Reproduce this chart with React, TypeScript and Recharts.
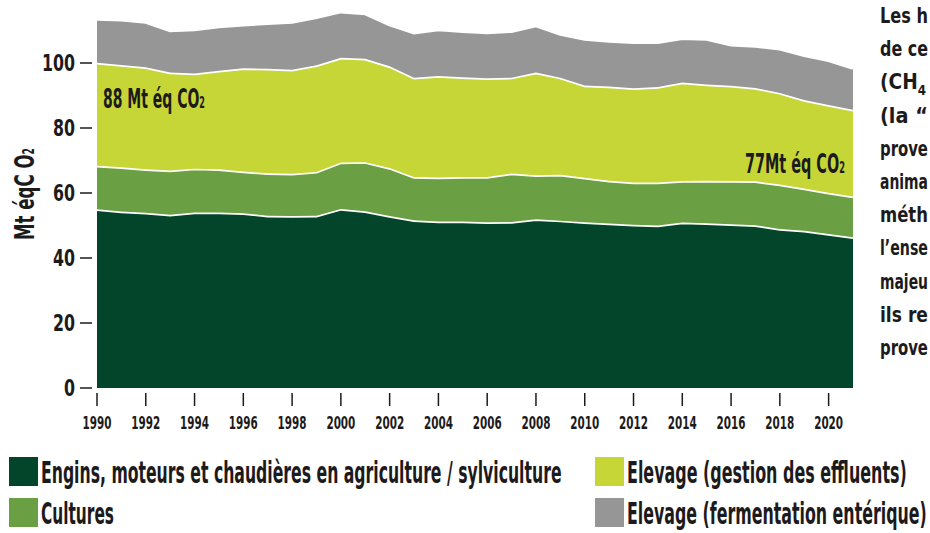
import React, { useLayoutEffect, useRef, useState } from 'react';
import { AreaChart, Area, XAxis, YAxis } from 'recharts';

const years = [
  1990, 1991, 1992, 1993, 1994, 1995, 1996, 1997, 1998, 1999, 2000, 2001, 2002, 2003, 2004, 2005,
  2006, 2007, 2008, 2009, 2010, 2011, 2012, 2013, 2014, 2015, 2016, 2017, 2018, 2019, 2020, 2021,
];

// Mt éq CO2 per category
const engins = [
  55.0, 54.3, 53.9, 53.3, 54.0, 54.0, 53.8, 53.0, 52.9, 53.0, 55.1, 54.4, 52.9, 51.6, 51.2, 51.2,
  51.0, 51.1, 51.9, 51.5, 51.0, 50.6, 50.2, 50.0, 50.9, 50.7, 50.4, 50.1, 48.9, 48.4, 47.4, 46.4,
];
const cultures = [
  13.4, 13.6, 13.4, 13.6, 13.5, 13.3, 12.8, 13.1, 13.0, 13.5, 14.3, 15.1, 14.8, 13.3, 13.6, 13.7,
  13.9, 14.9, 13.6, 14.1, 13.7, 13.2, 13.0, 13.2, 12.8, 13.1, 13.3, 13.5, 13.7, 13.0, 12.7, 12.5,
];
const effluents = [
  31.7, 31.5, 31.4, 30.2, 29.3, 30.3, 31.8, 32.1, 32.0, 32.8, 32.2, 31.8, 31.3, 30.6, 31.2, 30.7,
  30.4, 29.5, 31.6, 29.9, 28.4, 29.0, 29.0, 29.4, 30.3, 29.6, 29.3, 28.7, 28.2, 27.2, 27.0, 26.7,
];
const fermentation = [
  13.4, 13.9, 13.9, 12.9, 13.5, 13.6, 13.4, 14.0, 14.7, 14.8, 14.2, 13.9, 12.8, 13.8, 14.3, 14.2,
  14.1, 14.3, 14.4, 13.4, 14.3, 14.0, 14.2, 13.8, 13.6, 14.0, 12.6, 12.9, 13.6, 13.8, 13.7, 12.8,
];

const xTicks = [1990, 1992, 1994, 1996, 1998, 2000, 2002, 2004, 2006, 2008, 2010, 2012, 2014, 2016, 2018, 2020];
const yTicks = [0, 20, 40, 60, 80, 100];

const series = [
  { key: 'engins', label: 'Engins, moteurs et chaudières en agriculture / sylviculture', color: '#03452a' },
  { key: 'cultures', label: 'Cultures', color: '#6aa043' },
  { key: 'effluents', label: 'Elevage (gestion des effluents)', color: '#c6d637' },
  { key: 'fermentation', label: 'Elevage (fermentation entérique)', color: '#959695' },
];

// right-hand paragraph, cut by the edge of the picture
const sideText = ['Les h', 'de ce', '(CH', '(la “', 'prove', 'anima', 'méth', 'l’ense', 'majeu', 'ils re', 'prove'];

const data = years.map((year, i) => ({
  year,
  engins: engins[i],
  cultures: cultures[i],
  effluents: effluents[i],
  fermentation: fermentation[i],
}));

const FONT = "'Liberation Sans Narrow', 'DejaVu Sans Condensed', 'Roboto', sans-serif";
const INK = '#1d1a1b';

// squeezes a text horizontally to a given width (condensed look)
const FitText = (props: any) => {
  const { x, y, width, rotate, anchor = 'start', children, ...rest } = props;
  const ref = useRef<SVGTextElement>(null);
  const [k, setK] = useState(1);
  useLayoutEffect(() => {
    if (ref.current) {
      const n = ref.current.getComputedTextLength();
      if (n > 0) setK(width / n);
    }
  }, [width]);
  const tr = `translate(${x},${y})${rotate ? ` rotate(${rotate})` : ''} scale(${k},1)`;
  return (
    <text ref={ref} x={0} y={0} transform={tr} textAnchor={anchor} fontFamily={FONT} fontWeight="bold" fill={INK} {...rest}>
      {children}
    </text>
  );
};

const XTick = (props: any) => {
  const { x, y, payload } = props;
  return (
    <g>
      <line x1={x} x2={x} y1={y + 5} y2={y + 18} stroke={INK} strokeWidth={1.5} />
      <FitText x={x} y={y + 41} width={29} anchor="middle" fontSize={17}>
        {payload.value}
      </FitText>
    </g>
  );
};

const YTick = (props: any) => {
  const { x, y, payload } = props;
  const w = String(payload.value).length * 11;
  return (
    <g>
      <line x1={x - 17} x2={x - 5} y1={y} y2={y} stroke={INK} strokeWidth={1.5} />
      <FitText x={x - 22} y={y + 8} width={w} anchor="end" fontSize={23}>
        {payload.value}
      </FitText>
    </g>
  );
};

export default function App() {
  return (
    <div style={{ position: 'absolute', left: 0, top: 0, width: 930, height: 533, overflow: 'hidden', background: '#fff' }}>
      <AreaChart width={930} height={533} data={data} margin={{ top: 11, right: 77, bottom: 105, left: 0 }}>
        <XAxis
          dataKey="year"
          type="number"
          domain={[1990, 2021]}
          ticks={xTicks}
          interval={0}
          height={40}
          axisLine={false}
          tickLine={false}
          tickSize={0}
          tickMargin={0}
          tick={<XTick />}
        />
        <YAxis
          type="number"
          domain={[0, 116]}
          ticks={yTicks}
          width={97}
          axisLine={false}
          tickLine={false}
          tickSize={0}
          tickMargin={0}
          tick={<YTick />}
        />
        {series.map((s) => (
          <Area
            key={s.key}
            type="linear"
            dataKey={s.key}
            stackId="a"
            fill={s.color}
            fillOpacity={1}
            stroke="#ffffff"
            strokeWidth={3.5}
            isAnimationActive={false}
          />
        ))}
      </AreaChart>

      <svg width={930} height={533} style={{ position: 'absolute', left: 0, top: 0, pointerEvents: 'none' }}>
        <FitText x={34} y={194} rotate={-90} width={92} anchor="middle" fontSize={27}>
          Mt éqC O<tspan fontSize={15}>2</tspan>
        </FitText>

        <FitText x={103} y={108} width={102} fontSize={26}>
          88 Mt éq CO<tspan fontSize={15}>2</tspan>
        </FitText>
        <FitText x={745} y={173} width={100} fontSize={26}>
          77Mt éq CO<tspan fontSize={15}>2</tspan>
        </FitText>

        {sideText.map((t, i) => (
          <FitText key={i} x={880} y={23 + i * 33.2} width={i === 2 ? 46 : 48} fontSize={22}>
            {t}
            {i === 2 ? <tspan dy={6} fontSize={14}>4</tspan> : null}
          </FitText>
        ))}

        {series.map((s, i) => {
          const sx = i < 2 ? 9 : 595;
          const sy = i % 2 === 0 ? 457 : 498;
          const widths = [521, 73, 280, 300];
          return (
            <g key={s.key}>
              <rect x={sx} y={sy} width={29} height={29} fill={s.color} />
              <FitText x={sx + 32} y={sy + 26} width={widths[i]} fontSize={30}>
                {s.label}
              </FitText>
            </g>
          );
        })}
      </svg>
    </div>
  );
}
